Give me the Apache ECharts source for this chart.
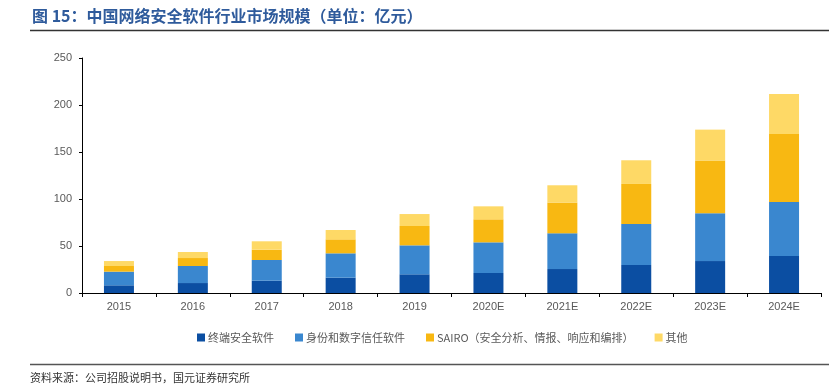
<!DOCTYPE html>
<html><head><meta charset="utf-8">
<script src="https://cdn.jsdelivr.net/npm/echarts@6/dist/echarts.min.js"></script>
<style>html,body{margin:0;padding:0;background:#fff}#c{width:829px;height:391px}</style>
</head><body><div id="c"></div>
<script>
const categories = ['2015','2016','2017','2018','2019','2020E','2021E','2022E','2023E','2024E'];
const seriesNames = ['终端安全软件','身份和数字信任软件','SAIRO（安全分析、情报、响应和编排）','其他'];
const endpoint = [8.2, 10.6, 13.1, 16.3, 19.9, 21.3, 25.5, 29.8, 34.0, 39.4];
const identity = [14.5, 18.1, 22.0, 25.9, 30.8, 32.6, 38.0, 43.6, 50.8, 57.4];
const sairo = [6.0, 8.5, 11.0, 14.9, 20.6, 24.5, 32.7, 42.6, 56.1, 72.3];
const others = [5.3, 6.4, 8.9, 9.9, 12.7, 13.8, 18.4, 25.2, 32.9, 42.6];
const yTicks = [0, 50, 100, 150, 200, 250];
const titleText = '图 15：中国网络安全软件行业市场规模（单位：亿元）';
const sourceText = '资料来源：公司招股说明书，国元证券研究所';
const colors = ['#0b4ea2', '#3a87cf', '#f8b812', '#fed966'];

const cjk = '"Noto Sans CJK SC", "Noto Sans", sans-serif';
const chart = echarts.init(document.getElementById('c'), null, {renderer: 'canvas'});
const dataSets = [endpoint, identity, sairo, others];
chart.setOption({
  animation: false,
  color: colors,
  textStyle: {fontFamily: cjk},
  grid: {left: 82, right: 8, top: 58, bottom: 98, containLabel: false},
  legend: {
    data: seriesNames,
    left: 192, top: 327,
    itemWidth: 8, itemHeight: 8, itemGap: 21,
    icon: 'rect',
    textStyle: {fontSize: 11, color: '#595959', fontFamily: cjk, padding: [0,0,0,-2]}
  },
  xAxis: {
    type: 'category', data: categories,
    axisLine: {lineStyle: {color: '#000', width: 1}},
    axisTick: {show: true, length: 4, lineStyle: {color: '#000'}},
    axisLabel: {color: '#595959', fontSize: 11, fontFamily: 'Liberation Sans, Arial, sans-serif', margin: 8}
  },
  yAxis: {
    type: 'value', min: yTicks[0], max: yTicks[yTicks.length-1], interval: 50,
    axisLine: {show: true, lineStyle: {color: '#000', width: 1}},
    axisTick: {show: true, length: 3, lineStyle: {color: '#000'}},
    splitLine: {show: false},
    axisLabel: {color: '#595959', fontSize: 11, fontFamily: 'Liberation Sans, Arial, sans-serif', margin: 10}
  },
  series: dataSets.map((d, i) => ({
    name: seriesNames[i], type: 'bar', stack: 'total', data: d,
    barWidth: 30
  })),
  graphic: [
    {type: 'text', left: 32, top: 8, style: {text: titleText, fill: '#2f5b9c', font: 'bold 16px ' + cjk}},
    {type: 'line', shape: {x1: 30, y1: 30.5, x2: 829, y2: 30.5}, style: {stroke: '#333', lineWidth: 1.5}},
    {type: 'line', shape: {x1: 30, y1: 364.5, x2: 829, y2: 364.5}, style: {stroke: '#555', lineWidth: 1.5}},
    {type: 'text', left: 30, top: 372, style: {text: sourceText, fill: '#333', font: '11px ' + cjk}}
  ]
});
</script></body></html>
